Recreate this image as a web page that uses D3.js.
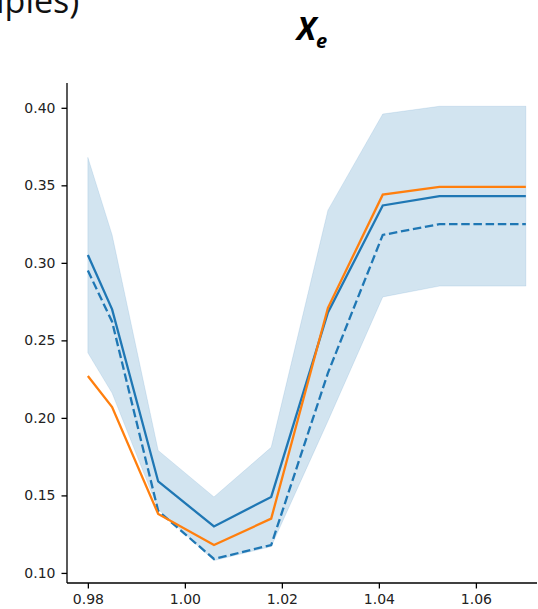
<!DOCTYPE html>
<html>
<head>
<meta charset="utf-8">
<script src="https://cdn.jsdelivr.net/npm/d3@7"></script>
<style>
  html, body { margin: 0; padding: 0; background: #fff; }
  svg { display: block; }
</style>
</head>
<body>
<div id="chart"></div>
<script>
// x positions of the samples
const xs = [0.98, 0.985, 0.9945, 1.006, 1.0178, 1.0295, 1.0408, 1.0525, 1.0703];
// solid blue (mean)
const meanBlue = [0.305, 0.270, 0.159, 0.130, 0.149, 0.268, 0.337, 0.343, 0.343];
// dashed blue
const dashBlue = [0.295, 0.262, 0.140, 0.109, 0.118, 0.229, 0.318, 0.325, 0.325];
// orange
const orange = [0.227, 0.207, 0.138, 0.118, 0.135, 0.271, 0.344, 0.349, 0.349];
// shaded band
const bandLow = [0.242, 0.216, 0.141, 0.108, 0.117, 0.198, 0.278, 0.285, 0.285];
const bandHigh = [0.368, 0.318, 0.179, 0.149, 0.181, 0.334, 0.396, 0.401, 0.401];

const xTicks = [0.98, 1.00, 1.02, 1.04, 1.06];
const yTicks = [0.10, 0.15, 0.20, 0.25, 0.30, 0.35, 0.40];

const width = 538, height = 609;
const blue = '#1f77b4', orangeC = '#ff7f0e';

const svg = d3.select('#chart').append('svg')
  .attr('width', width)
  .attr('height', height);

// cut-off text of a larger heading above
svg.append('text')
  .attr('x', -4).attr('y', 13)
  .style('font-family', '"Open Sans", sans-serif')
  .style('font-size', '34px')
  .style('fill', '#111')
  .text('iples)');

// title X_e
const title = svg.append('text')
  .attr('x', 312).attr('y', 40)
  .attr('text-anchor', 'middle')
  .style('font-family', '"Open Sans", sans-serif')
  .style('font-weight', 'bold')
  .style('font-style', 'italic')
  .style('fill', '#000');
title.append('tspan').style('font-size', '32px').text('X');
title.append('tspan').attr('dy', 8).style('font-size', '20px').text('e');

const x = d3.scaleLinear().domain([0.9757, 1.0726]).range([67, 537]);
const y = d3.scaleLinear().domain([0.0935, 0.416]).range([583, 83]);

const rows = xs.map((v, i) => ({
  x: v, mean: meanBlue[i], dash: dashBlue[i], orange: orange[i],
  lo: bandLow[i], hi: bandHigh[i]
}));

// band
svg.append('path')
  .datum(rows)
  .attr('d', d3.area().x(d => x(d.x)).y0(d => y(d.lo)).y1(d => y(d.hi)))
  .style('fill', blue)
  .style('fill-opacity', 0.2)
  .style('stroke', blue)
  .style('stroke-opacity', 0.12)
  .style('stroke-width', 1);

const line = key => d3.line().x(d => x(d.x)).y(d => y(d[key]));

svg.append('path').datum(rows)
  .attr('d', line('dash'))
  .style('fill', 'none').style('stroke', blue)
  .style('stroke-width', 2.3)
  .style('stroke-dasharray', '8.5,3.7');

svg.append('path').datum(rows)
  .attr('d', line('mean'))
  .style('fill', 'none').style('stroke', blue)
  .style('stroke-width', 2.3);

svg.append('path').datum(rows)
  .attr('d', line('orange'))
  .style('fill', 'none').style('stroke', orangeC)
  .style('stroke-width', 2.3);

// axes
const xAxis = svg.append('g')
  .attr('transform', 'translate(0,583)')
  .call(d3.axisBottom(x).tickValues(xTicks).tickFormat(d3.format('.2f'))
    .tickSize(5.5).tickPadding(5.5));
const yAxis = svg.append('g')
  .attr('transform', 'translate(67,0)')
  .call(d3.axisLeft(y).tickValues(yTicks).tickFormat(d3.format('.2f'))
    .tickSize(5.5).tickPadding(6));

[xAxis, yAxis].forEach(g => {
  g.select('.domain').style('stroke', '#000').style('stroke-width', 1.3)
    .attr('d', null);
  g.selectAll('.tick line').style('stroke', '#000').style('stroke-width', 1.3);
  g.selectAll('.tick text')
    .style('font-family', '"DejaVu Sans", sans-serif')
    .style('font-size', '14px')
    .style('fill', '#222');
});
// spines without end ticks
xAxis.select('.domain').attr('d', 'M67,0H537');
yAxis.select('.domain').attr('d', 'M0,83V583');
</script>
</body>
</html>
